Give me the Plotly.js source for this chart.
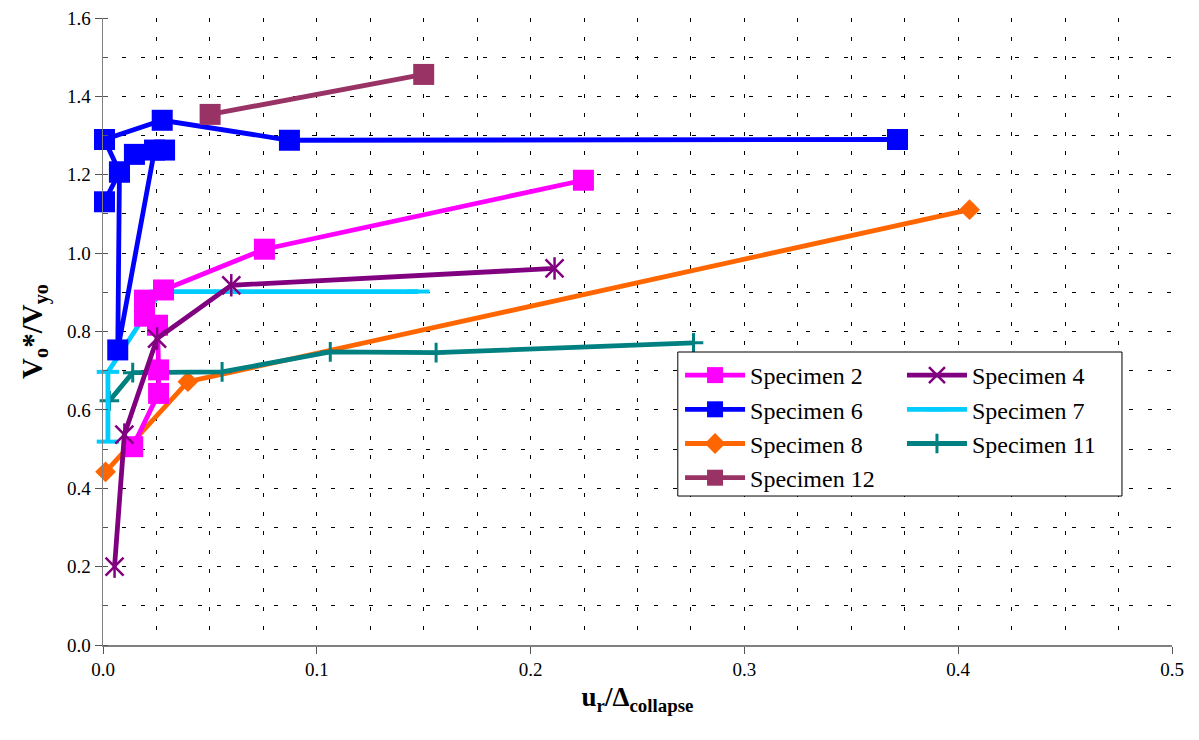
<!DOCTYPE html>
<html>
<head>
<meta charset="utf-8">
<script src="https://cdn.plot.ly/plotly-3.0.1.min.js"></script>
<style>html,body{margin:0;padding:0;background:#fff;}#chart{width:1199px;height:740px;}</style>
</head>
<body>
<div id="chart"></div>
<script>
// Specimen data (u_r / Δcollapse , Vo*/Vyo)
const x2 = [0.0139, 0.026, 0.026, 0.0255, 0.0194, 0.0194, 0.0283, 0.0755, 0.2247];
const y2 = [0.506, 0.642, 0.702, 0.816, 0.839, 0.880, 0.906, 1.010, 1.186];
const x4 = [0.0054, 0.010, 0.0253, 0.060, 0.2112];
const y4 = [0.200, 0.537, 0.782, 0.918, 0.961];
const x6 = [0.0007, 0.0077, 0.0069, 0.0241, 0.0288, 0.0147, 0.0077, 0.0007, 0.0277, 0.0872, 0.3716];
const y6 = [1.131, 1.207, 0.753, 1.263, 1.263, 1.252, 1.207, 1.290, 1.339, 1.288, 1.290];
const x7 = [0.0023, 0.0023, 0.027, 0.1475];
const y7 = [0.519, 0.697, 0.902, 0.902];
const x8 = [0.0012, 0.0397, 0.4053];
const y8 = [0.442, 0.672, 1.111];
const x11 = [0.003, 0.0139, 0.0557, 0.1063, 0.1558, 0.2762];
const y11 = [0.623, 0.695, 0.697, 0.748, 0.746, 0.771];
const x12 = [0.0501, 0.150];
const y12 = [1.354, 1.456];
const names = ['Specimen 2','Specimen 4','Specimen 6','Specimen 7','Specimen 8','Specimen 11','Specimen 12'];
const xTickVals = [0, 0.1, 0.2, 0.3, 0.4, 0.5];
const yTickVals = [0, 0.2, 0.4, 0.6, 0.8, 1.0, 1.2, 1.4, 1.6];

const SERIF = 'Liberation Serif';
const LW = 4.8;
const traces = [
  {name: names[4], x: x8, y: y8, mode: 'lines+markers', legendrank: 3, cliponaxis: false,
   line: {color: '#FF6600', width: LW}, marker: {symbol: 'diamond', size: 16, color: '#FF6600'}},
  {name: names[5], x: x11, y: y11, mode: 'lines+markers', legend: 'legend2', legendrank: 3, cliponaxis: false,
   line: {color: '#008080', width: LW},
   marker: {symbol: 'cross-thin-open', size: 14, color: '#008080', line: {color: '#008080', width: 3}}},
  {name: names[3], x: x7, y: y7, mode: 'lines+markers', legend: 'legend2', legendrank: 2, cliponaxis: false,
   line: {color: '#00CCFF', width: LW},
   marker: {symbol: 'line-ew-open', size: 16, color: '#00CCFF', line: {color: '#00CCFF', width: 4}}},
  {name: names[0], x: x2, y: y2, mode: 'lines+markers', legendrank: 1, cliponaxis: false,
   line: {color: '#FF00FF', width: LW}, marker: {symbol: 'square', size: 21, color: '#FF00FF'}},
  {name: names[2], x: x6, y: y6, mode: 'lines+markers', legendrank: 2, cliponaxis: false,
   line: {color: '#0000FF', width: LW}, marker: {symbol: 'square', size: 21, color: '#0000FF'}},
  {name: names[1], x: x4, y: y4, mode: 'lines+markers', legend: 'legend2', legendrank: 1, legendgroup: 's4', cliponaxis: false,
   line: {color: '#800080', width: LW},
   marker: {symbol: 'x-thin-open', size: 18, color: '#800080', line: {color: '#800080', width: 2.5}}},
  {name: names[1], x: x4, y: y4, mode: 'markers', legend: 'legend2', showlegend: false, legendgroup: 's4', cliponaxis: false,
   marker: {symbol: 'line-ns-open', size: 16, color: '#800080', line: {color: '#800080', width: 2.5}}},
  {name: names[6], x: x12, y: y12, mode: 'lines+markers', legendrank: 4, cliponaxis: false,
   line: {color: '#993366', width: LW}, marker: {symbol: 'square', size: 21, color: '#993366'}}
];

const gridStyle = {gridcolor: '#000000', gridwidth: 1, griddash: '4px,15px'};
const layout = {
  width: 1199, height: 740,
  margin: {l: 103, r: 27, t: 18, b: 95},
  paper_bgcolor: '#ffffff', plot_bgcolor: '#ffffff',
  font: {family: SERIF, color: '#000000', size: 19},
  showlegend: true,
  xaxis: {
    range: [0, 0.5], tickvals: xTickVals, tickformat: '.1f',
    showline: true, linecolor: '#808080', linewidth: 1.5, zeroline: false,
    ticks: 'outside', ticklen: 7, tickcolor: '#555555', tickwidth: 1,
    showgrid: true, ...gridStyle,
    minor: {dtick: 0.025, showgrid: true, ...gridStyle, ticks: ''},
    tickfont: {size: 19, family: SERIF, color: '#000000'},
    title: {text: '<b>u<sub>r</sub>/Δ<sub>collapse</sub></b>', font: {size: 27, family: SERIF, color: '#000000'}, standoff: 8}
  },
  yaxis: {
    range: [0, 1.6], tickvals: yTickVals, tickformat: '.1f',
    showline: true, linecolor: '#808080', linewidth: 1.5, zeroline: false,
    ticks: 'outside', ticklen: 7, tickcolor: '#555555', tickwidth: 1,
    showgrid: true, ...gridStyle,
    minor: {dtick: 0.1, showgrid: true, ...gridStyle, ticks: 'inside', ticklen: 5, tickcolor: '#555555'},
    tickfont: {size: 19, family: SERIF, color: '#000000'},
    title: {text: '<b>V<sub>o</sub>*/V<sub>yo</sub></b>', font: {size: 29, family: SERIF, color: '#000000'}, standoff: 16}
  },
  legend: {
    x: 0.5398, y: 0.4657, xanchor: 'left', yanchor: 'top', xref: 'paper', yref: 'paper',
    bgcolor: 'rgba(0,0,0,0)', borderwidth: 0, itemwidth: 60,
    font: {size: 24, family: SERIF, color: '#000000'}, tracegroupgap: 0
  },
  legend2: {
    x: 0.7474, y: 0.4657, xanchor: 'left', yanchor: 'top', xref: 'paper', yref: 'paper',
    bgcolor: 'rgba(0,0,0,0)', borderwidth: 0, itemwidth: 60,
    font: {size: 24, family: SERIF, color: '#000000'}, tracegroupgap: 0
  },
  shapes: [{
    type: 'rect', xref: 'paper', yref: 'paper', layer: 'above',
    x0: 0.5377, x1: 0.9532, y0: 0.2376, y1: 0.4673,
    line: {color: '#000000', width: 1}, fillcolor: '#ffffff'
  }]
};

Plotly.newPlot('chart', traces, layout, {displayModeBar: false, staticPlot: true});
</script>
</body>
</html>
